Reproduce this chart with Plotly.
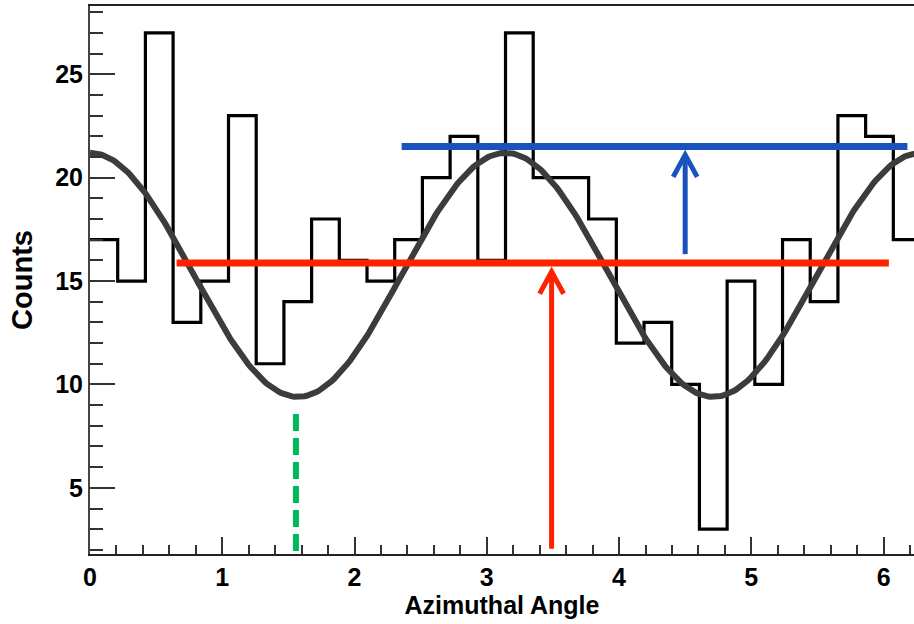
import numpy as np
import plotly.graph_objects as go

# ---- data ----
n_bins = 30
bin_edges = np.linspace(0, 2 * np.pi, n_bins + 1)
counts = [17, 15, 27, 13, 15, 23, 11, 14, 18, 16,
          15, 17, 20, 22, 16, 27, 20, 20, 18, 12,
          13, 10, 3, 15, 10, 17, 14, 23, 22, 17]

# fitted model: offset + amplitude * cos(2*phi)
fit_offset = 15.3
fit_amplitude = 5.9

# annotation guide values
red_level = 15.87
red_x_range = [0.655, 6.04]
red_arrow_x = 3.49
red_arrow_y = [2.05, 15.45]

blue_level = 21.5
blue_x_range = [2.356, 6.18]
blue_arrow_x = 4.50
blue_arrow_y = [16.3, 21.1]

green_x = 1.557
green_y = [1.95, 8.6]

x_range = [0, 6.23]
y_range = [1.8, 28.3]

# ---- figure ----
fig = go.Figure()

step_x = list(bin_edges)
step_y = counts + [counts[-1]]
fig.add_trace(go.Scatter(x=step_x, y=step_y, mode="lines",
                         line=dict(shape="hv", color="black", width=3.2),
                         showlegend=False, hoverinfo="skip"))

phi = np.linspace(0, 2 * np.pi, 400)
fit_y = fit_offset + fit_amplitude * np.cos(2 * phi)
fig.add_trace(go.Scatter(x=phi, y=fit_y, mode="lines",
                         line=dict(color="#3c3c3c", width=6),
                         showlegend=False, hoverinfo="skip"))

RED = "#ff2200"
BLUE = "#1a52bd"
GREEN = "#00b85c"

shapes = []
# red horizontal line + arrow
shapes.append(dict(type="line", xref="x", yref="y", x0=red_x_range[0], x1=red_x_range[1],
                   y0=red_level, y1=red_level, line=dict(color=RED, width=7)))
shapes.append(dict(type="line", xref="x", yref="y", x0=red_arrow_x, x1=red_arrow_x,
                   y0=red_arrow_y[0], y1=red_arrow_y[1], line=dict(color=RED, width=5)))
shapes.append(dict(type="path", xref="x", yref="y", xsizemode="pixel", ysizemode="pixel",
                   xanchor=red_arrow_x, yanchor=red_arrow_y[1],
                   path="M -12,-22 L 0,0 L 12,-22", line=dict(color=RED, width=5)))
# blue horizontal line + arrow
shapes.append(dict(type="line", xref="x", yref="y", x0=blue_x_range[0], x1=blue_x_range[1],
                   y0=blue_level, y1=blue_level, line=dict(color=BLUE, width=7)))
shapes.append(dict(type="line", xref="x", yref="y", x0=blue_arrow_x, x1=blue_arrow_x,
                   y0=blue_arrow_y[0], y1=blue_arrow_y[1], line=dict(color=BLUE, width=5)))
shapes.append(dict(type="path", xref="x", yref="y", xsizemode="pixel", ysizemode="pixel",
                   xanchor=blue_arrow_x, yanchor=blue_arrow_y[1],
                   path="M -12,-22 L 0,0 L 12,-22", line=dict(color=BLUE, width=5)))
# green dashed
shapes.append(dict(type="line", xref="x", yref="y", x0=green_x, x1=green_x,
                   y0=green_y[0], y1=green_y[1], line=dict(color=GREEN, width=6, dash="17px,7px")))

FAM = "Liberation Sans, Arial, sans-serif"
tick_font = dict(family=FAM, size=25, color="black", weight="bold")
xtitle_font = dict(family=FAM, size=25, color="black", weight="bold")
ytitle_font = dict(family=FAM, size=29, color="black", weight="bold")

fig.update_layout(
    width=914, height=624,
    margin=dict(l=90, r=0, t=6, b=70),
    paper_bgcolor="white", plot_bgcolor="white",
    shapes=shapes,
    xaxis=dict(range=x_range, tick0=0, dtick=1, ticks="inside", ticklen=17, tickwidth=1.5,
               tickcolor="#333", showgrid=False, zeroline=False, showline=True,
               linecolor="#222", linewidth=2, mirror=True,
               minor=dict(dtick=0.2, tick0=0, ticks="inside", ticklen=9, tickwidth=1.5, tickcolor="#333"),
               tickfont=tick_font,
               title=dict(text="Azimuthal Angle", font=xtitle_font, standoff=2)),
    yaxis=dict(range=y_range, tick0=0, dtick=5, ticks="inside", ticklen=25, tickwidth=1.5,
               tickcolor="#333", showgrid=False, zeroline=False, showline=True,
               linecolor="#444", linewidth=2,
               minor=dict(dtick=1, tick0=0, ticks="inside", ticklen=13, tickwidth=1.5, tickcolor="#333"),
               tickfont=tick_font,
               title=dict(text="Counts", font=ytitle_font, standoff=14)),
)

fig.write_html("out.html")
